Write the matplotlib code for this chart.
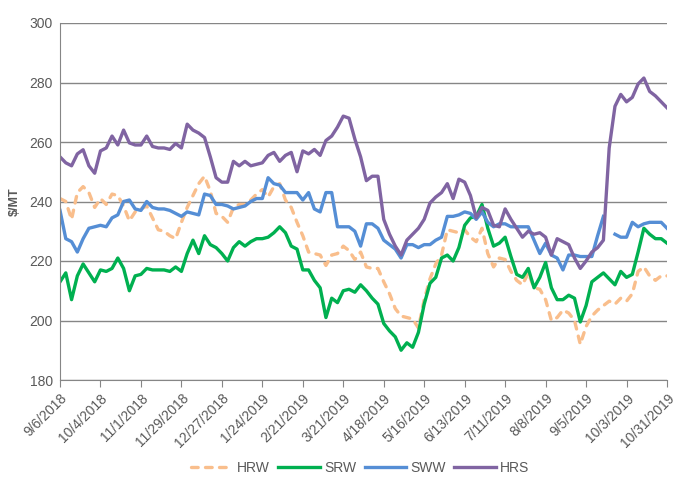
import numpy as np
import pandas as pd
import matplotlib
matplotlib.use('Agg')
import matplotlib.pyplot as plt

plt.rcParams['font.family'] = ['Liberation Sans', 'DejaVu Sans']

# one reading every 4 days, 9/6/2018 .. 10/31/2019
dates = pd.date_range('2018-09-06', periods=106, freq='4D')

hrw = [241, 240, 234, 243, 245, 243, 238, 241, 239, 242.5, 242, 238.5, 233.5, 236.5, 237.5, 238.5, 234.5, 230.5,
       230, 228.5, 227.5, 233, 238, 242, 246, 248.5, 243.5, 236, 235, 233, 238, 239, 239, 240.5, 242.5,
       244, 241.5, 245, 246, 240.5, 238, 233, 228.5, 223, 222.5, 222, 218.5, 222, 222.5, 225, 223.5, 220.5,
       223, 218, 217.5, 217.5, 213, 209, 204, 201.5, 201, 200.5, 197.5, 207, 214, 219, 222, 230.5, 230, 229.5,
       230.5, 228, 226.5, 231, 222.5, 218, 221, 220.5, 216.5, 213.5, 212, 216, 211, 210.5, 207, 200, 201,
       203.5, 202.5, 200, 192, 198, 201.5, 203.5, 205, 206.5, 205.5, 207.5, 206.5, 209, 216.5, 218, 215, 213.5, 215, 215]

srw = [213, 216, 207, 215, 219, 216, 213, 217, 216.5, 217.5, 221, 217.5, 210, 215, 215.5, 217.5, 217, 217,
       217, 216.5, 218, 216.5, 222.5, 227, 222.5, 228.5, 225.5, 224.5, 222.5, 220, 224.5, 226.5, 225, 226.5, 227.5,
       227.5, 228, 229.5, 231.5, 229.5, 225, 224, 217, 217, 213.5, 211, 201, 207.5, 206, 210, 210.5, 209.5,
       212, 210, 207.5, 205.5, 199, 196.5, 194.5, 190, 192.5, 191, 196, 205.5, 212.5, 214.5, 221, 222, 220, 224.5,
       232, 234.5, 235, 239, 231, 225, 226, 228, 221.5, 215.5, 214.5, 217.5, 211, 214.5, 219.5, 211, 207,
       207, 208.5, 207.5, 199.5, 205, 213, 214.5, 216, 214, 212, 216.5, 214.5, 215.5, 223, 231, 229, 227.5, 227.5, 226]

sww = [237, 227.5, 226.5, 223, 227.5, 231, 231.5, 232, 231.5, 234.5, 235.5, 240, 240.5, 237.5, 237, 240, 238, 237.5,
       237.5, 237, 236, 235, 236.5, 236, 235.5, 242.5, 242, 239, 239, 238.5, 237.5, 238, 238.5, 240, 241,
       241, 248, 246, 245.5, 243, 243, 243, 240.5, 243, 237.5, 236.5, 243, 243, 231.5, 231.5, 231.5, 230,
       225, 232.5, 232.5, 231, 227, 225.5, 224, 221, 225.5, 225.5, 224.5, 225.5, 225.5, 227, 228, 235, 235, 235.5,
       236.5, 236, 234, 236.5, 233, 231.5, 232.5, 232.5, 231.5, 231.5, 231.5, 231.5, 227, 222.5, 226, 222, 221,
       217, 222, 222, 221.5, 221.5, 221.5, 228.5, 235, np.nan, 229, 228, 228, 233, 231.5, 232.5, 233, 233, 233, 231]

hrs = [255, 253, 252, 256, 257.4, 252, 249.5, 257, 258, 262, 259, 264, 259.7, 259, 259, 262, 258.5, 258,
       258, 257.5, 259.5, 258, 266, 264, 263, 261.5, 255, 248, 246.5, 246.5, 253.5, 252, 253.5, 252, 252.5,
       253, 255.5, 256.5, 253.5, 255.5, 256.5, 250, 257, 256, 257.5, 255.5, 260.5, 262, 265, 268.7, 268, 261,
       255, 247, 248.5, 248.5, 234, 229, 225, 222, 227, 229, 231, 234, 239.5, 241.5, 243, 246, 241, 247.5,
       246.5, 242, 234.5, 238, 237, 232, 231.5, 237.5, 234, 231, 228, 230, 229, 229.5, 228, 222, 227.5,
       226.5, 225.5, 221, 217.5, 220, 223, 224.5, 227, 258, 272, 276, 273.5, 275, 279.5, 281.5, 277, 275.5, 273.5, 271.5]

series = ['HRW', 'SRW', 'SWW', 'HRS']
colors = ['#F9BE8C', '#00B050', '#558ED5', '#8064A2']

tick_dates = pd.date_range('2018-09-06', '2019-10-31', freq='28D')
tick_labels = [f'{d.month}/{d.day}/{d.year}' for d in tick_dates]

grey = '#868686'
txt = '#595959'

fig = plt.figure(figsize=(6.8, 4.91), dpi=100)
ax = fig.add_axes([60/680, 1-380/491, 607/680, 357/491])

for name, vals, c in zip(series, [hrw, srw, sww, hrs], colors):
    if name == 'HRW':
        ax.plot(dates, vals, color=c, lw=2.4, dashes=(2, 2.2), dash_capstyle='round', label=name)
    else:
        ax.plot(dates, vals, color=c, lw=2.4, label=name)

ax.set_ylim(180, 300)
ax.set_yticks(np.arange(180, 301, 20))
ax.set_xlim(dates[0], dates[-1])
ax.set_xticks(tick_dates)
ax.set_xticklabels(tick_labels, rotation=45, ha='right', rotation_mode='anchor')

ax.grid(axis='y', color=grey, lw=1)
ax.set_axisbelow(True)
for s in ['top', 'right']:
    ax.spines[s].set_visible(False)
ax.spines['left'].set_color(grey)
ax.spines['bottom'].set_color(grey)
ax.tick_params(axis='x', colors=grey, labelcolor=txt, labelsize=10, length=5, pad=3)
ax.tick_params(axis='y', length=0, labelcolor=txt, labelsize=10, pad=5)
ax.set_ylabel(r'\$/MT', fontsize=9, fontweight='bold', color=txt, labelpad=6)

fig.legend(loc='center', bbox_to_anchor=(0.53, 0.047), ncol=4, frameon=False,
           fontsize=10, handlelength=3, handletextpad=0.3, columnspacing=0.6,
           labelcolor=txt)

fig.savefig('out.png', dpi=100)
